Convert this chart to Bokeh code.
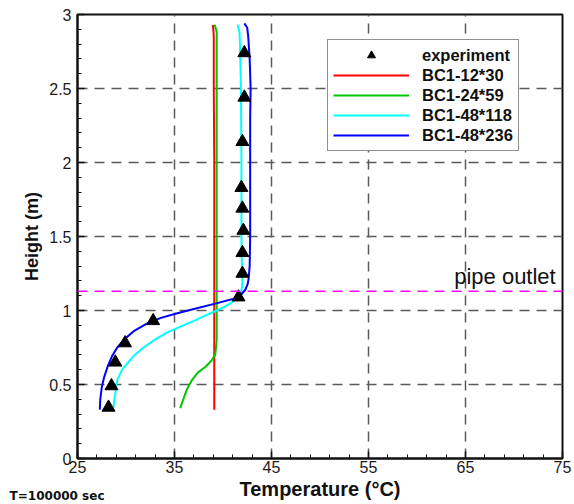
from bokeh.plotting import figure
from bokeh.models import FixedTicker, Span, Label, Legend, LegendItem, Range1d
from bokeh.embed import file_html
from bokeh.resources import INLINE

# ---------------- data ----------------
exp_T = [28.2, 28.5, 28.9, 29.9, 32.8, 41.6, 42.0, 42.0, 42.1, 42.0, 41.9, 42.0, 42.2, 42.2]
exp_h = [0.345, 0.49, 0.65, 0.78, 0.93, 1.09, 1.25, 1.39, 1.54, 1.69, 1.83, 2.14, 2.44, 2.74]

bc12_T = [39.1, 39.1, 39.1, 39.1, 39.1, 39.1, 39.05, 39.05, 39.0, 38.95]
bc12_h = [0.33, 0.6, 1.0, 1.1, 1.5, 2.0, 2.5, 2.85, 2.9, 2.93]

bc24_T = [35.6, 35.9, 36.3, 36.8, 37.4, 38.2, 38.8, 39.2, 39.35, 39.35, 39.35, 39.35, 39.35, 39.35, 39.15]
bc24_h = [0.34, 0.40, 0.47, 0.53, 0.58, 0.62, 0.66, 0.70, 0.80, 1.0, 1.5, 2.0, 2.5, 2.88, 2.93]

bc48a_T = [28.7, 28.8, 28.95, 29.1, 29.6, 30.1, 30.9, 31.8, 32.9, 34.2, 35.9, 37.0, 38.0, 39.0,
           40.0, 40.8, 41.4, 41.8, 41.95, 42.0, 41.95, 41.9, 41.9, 41.85, 41.75, 41.7, 41.5]
bc48a_h = [0.34, 0.40, 0.46, 0.53, 0.60, 0.64, 0.70, 0.75, 0.80, 0.85, 0.90, 0.93, 0.96, 0.99,
           1.02, 1.05, 1.08, 1.11, 1.15, 1.2, 1.3, 1.5, 2.0, 2.5, 2.8, 2.88, 2.93]

bc48b_T = [27.3, 27.35, 27.5, 27.75, 28.1, 28.55, 29.1, 29.9, 30.8, 32.1, 33.6, 35.2, 37.0, 39.4,
           41.1, 41.9, 42.3, 42.55, 42.65, 42.75, 42.8, 42.8, 42.8, 42.85, 42.75, 42.6, 42.5, 42.2]
bc48b_h = [0.33, 0.40, 0.48, 0.55, 0.62, 0.69, 0.75, 0.81, 0.86, 0.91, 0.95, 0.98, 1.01, 1.05,
           1.08, 1.11, 1.14, 1.18, 1.22, 1.3, 1.5, 2.0, 2.3, 2.5, 2.7, 2.85, 2.91, 2.94]

pipe_outlet_h = 1.13

x_ticks = [25, 35, 45, 55, 65, 75]
x_minor = [27, 29, 31, 33, 37, 39, 41, 43, 47, 49, 51, 53, 57, 59, 61, 63, 67, 69, 71, 73]
y_ticks = [0, 0.5, 1, 1.5, 2, 2.5, 3]
y_tick_labels = ["0", "0.5", "1", "1.5", "2", "2.5", "3"]
y_minor = [0.1, 0.2, 0.3, 0.4, 0.6, 0.7, 0.8, 0.9, 1.1, 1.2, 1.3, 1.4, 1.6, 1.7, 1.8, 1.9,
           2.1, 2.2, 2.3, 2.4, 2.6, 2.7, 2.8, 2.9]

series_names = ["experiment", "BC1-12*30", "BC1-24*59", "BC1-48*118", "BC1-48*236"]
series_colors = ["black", "#FF0000", "#00C800", "#00FFFF", "#0000FF"]

FONT = "Liberation Sans"

# ---------------- figure ----------------
p = figure(frame_width=485, frame_height=444,
           min_border_left=77, min_border_top=14, min_border_right=10, min_border_bottom=46,
           x_range=Range1d(25, 75), y_range=Range1d(0, 3),
           output_backend="svg", toolbar_location=None)
p.background_fill_color = "white"
p.border_fill_color = "white"
p.outline_line_color = "#111111"
p.outline_line_width = 2

# axes
p.xaxis.ticker = FixedTicker(ticks=x_ticks, minor_ticks=x_minor)
p.yaxis.ticker = FixedTicker(ticks=y_ticks, minor_ticks=y_minor)
p.yaxis.major_label_overrides = {t: s for t, s in zip(y_ticks, y_tick_labels)}
p.xaxis.major_label_overrides = {t: str(t) for t in x_ticks}

for ax in (p.xaxis, p.yaxis):
    ax.axis_line_color = "#111111"
    ax.axis_line_width = 2
    ax.major_tick_in = 7
    ax.major_tick_out = 0
    ax.minor_tick_in = 4
    ax.minor_tick_out = 0
    ax.major_tick_line_color = "#111111"
    ax.major_tick_line_width = 1.5
    ax.minor_tick_line_color = "#111111"
    ax.minor_tick_line_width = 1
    ax.major_label_text_font = FONT
    ax.major_label_text_font_size = "16px"
    ax.major_label_text_color = "#1a1a1a"
    ax.axis_label_text_font = FONT
    ax.axis_label_text_font_style = "bold"
    ax.axis_label_text_color = "#111111"

p.xaxis.axis_label = "Temperature (°C)"
p.xaxis.axis_label_text_font_size = "20px"
p.xaxis.major_label_standoff = 2
p.xaxis.axis_label_standoff = 2
p.yaxis.axis_label = "Height (m)"
p.yaxis.axis_label_text_font_size = "18px"
p.yaxis.major_label_standoff = 6
p.yaxis.axis_label_standoff = 4

# grid
for g in (p.xgrid, p.ygrid):
    g.grid_line_color = "#5a5a5a"
    g.grid_line_width = 1.5
    g.grid_line_dash = "10 7"

# pipe outlet line
p.add_layout(Span(location=pipe_outlet_h, dimension="width", line_color="#FF00FF",
                  line_width=1.5, line_dash="10 7"))
p.add_layout(Label(x=74.3, y=pipe_outlet_h, y_offset=15, text="pipe outlet",
                   text_align="right", text_baseline="alphabetic",
                   text_font=FONT, text_font_size="22px", text_color="#111111"))

# curves
r1 = p.line(bc12_T, bc12_h, line_color=series_colors[1], line_width=2)
r2 = p.line(bc24_T, bc24_h, line_color=series_colors[2], line_width=2)
r3 = p.line(bc48a_T, bc48a_h, line_color=series_colors[3], line_width=2)
r4 = p.line(bc48b_T, bc48b_h, line_color=series_colors[4], line_width=2)
r0 = p.scatter(exp_T, exp_h, marker="triangle", size=13, fill_color="black", line_color="black")

legend = Legend(items=[LegendItem(label=n, renderers=[r]) for n, r in zip(series_names, [r0, r1, r2, r3, r4])],
                location=(250, 307), orientation="vertical",
                glyph_width=76, glyph_height=20, label_height=20, label_standoff=13,
                spacing=0, padding=5, margin=0,
                label_text_font=FONT, label_text_font_style="bold", label_text_font_size="16.5px",
                label_text_color="#111111",
                border_line_color="#222222", border_line_width=1,
                background_fill_color="white", background_fill_alpha=1.0)
p.add_layout(legend)

# time stamp (placed in a side panel so that it is not clipped to the frame)
p.add_layout(Label(x=18.0, y=-0.255, text="T=100000 sec", text_align="left", text_baseline="alphabetic",
                   text_font="DejaVu Sans", text_font_style="bold", text_font_size="12px",
                   text_color="#111111"),
             "above")

open("out.html", "w").write(file_html(p, INLINE))
